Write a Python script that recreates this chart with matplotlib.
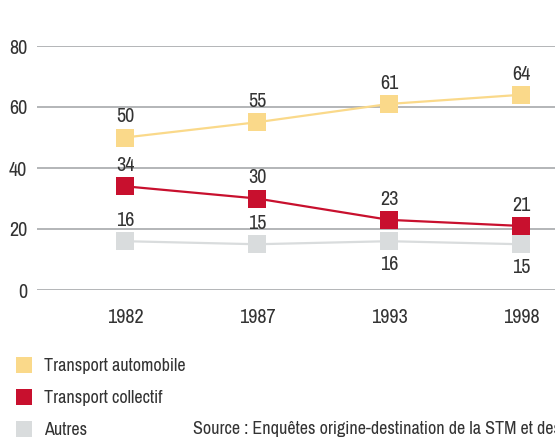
import matplotlib
matplotlib.use("Agg")
import matplotlib.pyplot as plt
from matplotlib.lines import Line2D

# data
years = ["1982", "1987", "1993", "1998"]
auto = [50, 55, 61, 64]
collectif = [34, 30, 23, 21]
autres = [16, 15, 16, 15]
series_names = ["Transport automobile", "Transport collectif", "Autres"]
y_ticks = [0, 20, 40, 60, 80]

colors = ["#FAD98A", "#C8102E", "#D9DCDD"]
plt.rcParams["font.family"] = ["Archivo Narrow", "Barlow Condensed", "DejaVu Sans"]
plt.rcParams["font.size"] = 13
num_size = 14.5
txt_color = "#333333"

fig = plt.figure(figsize=(5.55, 4.38), dpi=100)
W, H = 555, 438
ax = fig.add_axes([37 / W, (H - 290) / H, 1 - 37 / W, 244 / H])

x = list(range(len(years)))
all_series = [auto, collectif, autres]
for vals, c in zip(all_series, colors):
    ax.plot(x, vals, color=c, lw=1.6, marker="s", markersize=12.5,
            markeredgewidth=0, clip_on=False, zorder=3)

# value labels: above, except last two "Autres" below
for vals in (auto, collectif):
    for xi, v in zip(x, vals):
        ax.annotate(str(v), (xi, v), xytext=(0, 8), textcoords="offset points",
                    ha="center", va="bottom", color=txt_color, fontsize=num_size)
for i, (xi, v) in enumerate(zip(x, autres)):
    if i < 2:
        ax.annotate(str(v), (xi, v), xytext=(0, 8), textcoords="offset points",
                    ha="center", va="bottom", color=txt_color, fontsize=num_size)
    else:
        ax.annotate(str(v), (xi, v), xytext=(0, -10), textcoords="offset points",
                    ha="center", va="top", color=txt_color, fontsize=num_size)

ax.set_ylim(0, 80)
ax.set_xlim(-0.667, 3.258)
ax.set_yticks(y_ticks)
ax.set_xticks(x)
ax.set_xticklabels(years)
ax.tick_params(length=0, colors=txt_color, labelsize=num_size)
ax.tick_params(axis="y", pad=7)
ax.tick_params(axis="x", pad=13)
ax.yaxis.grid(True, color="#A7A9AC", lw=1.2)
ax.set_axisbelow(True)
for s in ax.spines.values():
    s.set_visible(False)

handles = [Line2D([], [], ls="none", marker="s", markersize=11, markeredgewidth=0, color=c)
           for c in colors]
fig.legend(handles, series_names, loc="upper left", bbox_to_anchor=(8 / W, 1 - 351 / H),
           frameon=False, labelspacing=0.88, handlelength=1.0, handletextpad=0.6,
           borderaxespad=0, labelcolor=txt_color)

fig.text(193 / W, 1 - 429 / H, "Source : Enquêtes origine-destination de la STM et des partenaires",
         va="center", ha="left", color=txt_color)

fig.savefig("out.png", dpi=100)
